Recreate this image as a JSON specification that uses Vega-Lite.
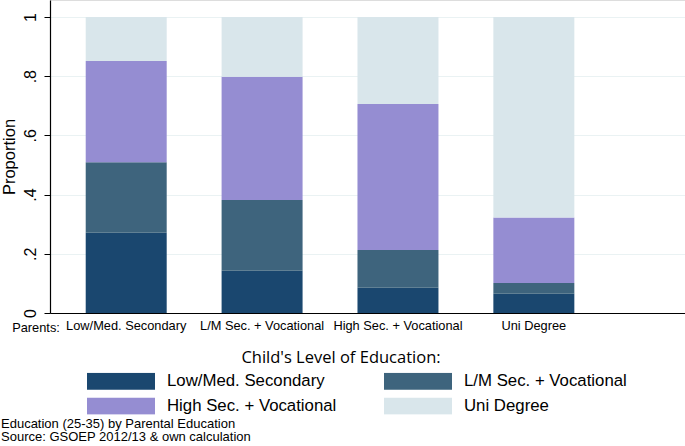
{
  "$schema": "https://vega.github.io/schema/vega-lite/v6.json",
  "width": 635,
  "height": 313,
  "autosize": {"type": "none"},
  "padding": {"left": 50, "top": 0, "right": 0, "bottom": 133},
  "background": "white",
  "title": {
    "text": ["Education (25-35) by Parental Education", "Source: GSOEP 2012/13 & own calculation"],
    "orient": "bottom",
    "anchor": "start",
    "frame": "group",
    "offset": 3,
    "dx": -49,
    "font": "Liberation Sans",
    "fontSize": 13,
    "fontWeight": "normal",
    "lineHeight": 13,
    "color": "#000000"
  },
  "data": {
    "values": [
      {"parents": "Low/Med. Secondary", "child": "Low/Med. Secondary", "level": 1, "share": 0.271},
      {"parents": "Low/Med. Secondary", "child": "L/M Sec. + Vocational", "level": 2, "share": 0.238},
      {"parents": "Low/Med. Secondary", "child": "High Sec. + Vocational", "level": 3, "share": 0.342},
      {"parents": "Low/Med. Secondary", "child": "Uni Degree", "level": 4, "share": 0.149},
      {"parents": "L/M Sec. + Vocational", "child": "Low/Med. Secondary", "level": 1, "share": 0.143},
      {"parents": "L/M Sec. + Vocational", "child": "L/M Sec. + Vocational", "level": 2, "share": 0.239},
      {"parents": "L/M Sec. + Vocational", "child": "High Sec. + Vocational", "level": 3, "share": 0.416},
      {"parents": "L/M Sec. + Vocational", "child": "Uni Degree", "level": 4, "share": 0.202},
      {"parents": "High Sec. + Vocational", "child": "Low/Med. Secondary", "level": 1, "share": 0.085},
      {"parents": "High Sec. + Vocational", "child": "L/M Sec. + Vocational", "level": 2, "share": 0.128},
      {"parents": "High Sec. + Vocational", "child": "High Sec. + Vocational", "level": 3, "share": 0.493},
      {"parents": "High Sec. + Vocational", "child": "Uni Degree", "level": 4, "share": 0.294},
      {"parents": "Uni Degree", "child": "Low/Med. Secondary", "level": 1, "share": 0.065},
      {"parents": "Uni Degree", "child": "L/M Sec. + Vocational", "level": 2, "share": 0.036},
      {"parents": "Uni Degree", "child": "High Sec. + Vocational", "level": 3, "share": 0.222},
      {"parents": "Uni Degree", "child": "Uni Degree", "level": 4, "share": 0.677}
    ]
  },
  "mark": {"type": "bar"},
  "encoding": {
    "x": {
      "field": "parents",
      "type": "nominal",
      "sort": ["Low/Med. Secondary", "L/M Sec. + Vocational", "High Sec. + Vocational", "Uni Degree"],
      "scale": {"paddingInner": 0.404, "paddingOuter": 0.5386, "align": 0.244},
      "axis": {
        "title": "Parents:",
        "titleX": -14.5,
        "titleY": 14,
        "titleAlign": "center",
        "titleBaseline": "middle",
        "titleAngle": 0,
        "titleFont": "Liberation Sans",
        "titleFontSize": 12.8,
        "titleFontWeight": "normal",
        "titleColor": "#000000",
        "labelAngle": 0,
        "labelFont": "Liberation Sans",
        "labelFontSize": 12.8,
        "labelColor": "#000000",
        "labelPadding": 6,
        "labelLimit": 300,
        "ticks": false,
        "domainColor": "#000000",
        "domainWidth": 1.2,
        "grid": false
      }
    },
    "y": {
      "field": "share",
      "type": "quantitative",
      "stack": "zero",
      "scale": {"domain": [0, 1.0574], "nice": false, "zero": true},
      "axis": {
        "title": "Proportion",
        "values": [0, 0.2, 0.4, 0.6, 0.8, 1],
        "labelExpr": "datum.value === 0 ? '0' : datum.value === 1 ? '1' : '.' + round(datum.value * 10)",
        "labelAngle": 270,
        "labelAlign": "center",
        "labelBaseline": "bottom",
        "labelFont": "Liberation Sans",
        "labelFontSize": 16,
        "labelColor": "#000000",
        "labelPadding": 6,
        "tickSize": 6,
        "tickColor": "#000000",
        "domainColor": "#000000",
        "domainWidth": 1.2,
        "grid": true,
        "gridColor": "#eaf2f3",
        "gridWidth": 1,
        "titleFont": "Liberation Sans",
        "titleFontSize": 16.5,
        "titleFontWeight": "normal",
        "titleColor": "#000000",
        "titleX": -41,
        "titleY": 156.5,
        "titleAngle": 270,
        "titleAlign": "center",
        "titleBaseline": "middle"
      }
    },
    "order": {"field": "level", "type": "quantitative", "sort": "ascending"},
    "color": {
      "field": "child",
      "type": "nominal",
      "sort": ["Low/Med. Secondary", "L/M Sec. + Vocational", "High Sec. + Vocational", "Uni Degree"],
      "scale": {
        "domain": ["Low/Med. Secondary", "L/M Sec. + Vocational", "High Sec. + Vocational", "Uni Degree"],
        "range": ["#1a476f", "#3e647d", "#958dd2", "#d9e6eb"]
      },
      "legend": {
        "orient": "none",
        "legendX": 37,
        "legendY": 350,
        "columns": 2,
        "direction": "horizontal",
        "title": "Child's Level of Education:",
        "titleFont": "Open Sans",
        "titleFontSize": 16.5,
        "titleFontWeight": "normal",
        "titleColor": "#000000",
        "titleAnchor": "middle",
        "titlePadding": 6,
        "titleLimit": 500,
        "labelFont": "Liberation Sans",
        "labelFontSize": 16.8,
        "labelColor": "#000000",
        "labelOffset": 12,
        "labelLimit": 300,
        "symbolType": "M-1,-0.25H1V0.25H-1Z",
        "symbolSize": 4624,
        "symbolStrokeWidth": 0,
        "symbolOpacity": 1,
        "clipHeight": 17,
        "rowPadding": 7,
        "columnPadding": 47,
        "padding": 0,
        "encode": {"title": {"update": {"dx": {"value": -16}}}}
      }
    }
  }
}
